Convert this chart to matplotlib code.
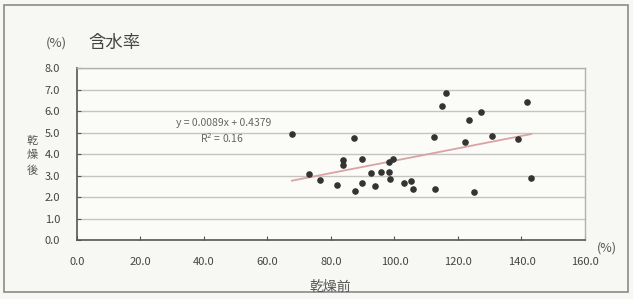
import matplotlib
matplotlib.use("Agg")
import matplotlib.pyplot as plt
import numpy as np
from matplotlib.patches import Rectangle

plt.rcParams['font.family'] = ['Noto Sans CJK JP', 'DejaVu Sans']

# data
x_before = [116.2, 114.9, 141.7, 127.4, 123.4, 87.3, 112.6, 130.7, 122.2, 138.8,
            83.7, 83.7, 89.8, 98.4, 99.6, 73.2, 76.7, 92.6, 95.9, 98.2,
            98.6, 81.9, 89.8, 94.0, 103.1, 105.2, 105.7, 112.8, 87.5, 124.9,
            143.1, 67.7]
y_after = [6.82, 6.25, 6.43, 5.94, 5.57, 4.74, 4.80, 4.85, 4.57, 4.68,
           3.72, 3.49, 3.75, 3.64, 3.75, 3.07, 2.79, 3.10, 3.18, 3.18,
           2.82, 2.56, 2.64, 2.51, 2.64, 2.74, 2.36, 2.37, 2.28, 2.23,
           2.90, 4.93]
trend_slope = 0.0288
trend_intercept = 0.81
equation_text = "y = 0.0089x + 0.4379"
r2_text = "R$^2$ = 0.16"
x_ticks = [0, 20, 40, 60, 80, 100, 120, 140, 160]
y_ticks = [0, 1, 2, 3, 4, 5, 6, 7, 8]

bg = '#f7f7f3'
fig = plt.figure(figsize=(6.33, 2.99), dpi=100, facecolor=bg)
fig.patches.append(Rectangle((0.007, 0.022), 0.985, 0.962, transform=fig.transFigure,
                             fill=False, edgecolor='#8a8a8a', linewidth=1.2))

ax = fig.add_axes([0.1216, 0.1973, 0.8025, 0.575])
ax.set_facecolor('#fbfbf8')
ax.set_xlim(0, 160)
ax.set_ylim(0, 8)
ax.set_xticks(x_ticks)
ax.set_yticks(y_ticks)
ax.set_xticklabels([f"{v:.1f}" for v in x_ticks])
ax.set_yticklabels([f"{v:.1f}" for v in y_ticks])
ax.tick_params(axis='both', labelsize=8, colors='#555555', labelcolor='#444444',
               direction='in', length=3, width=0.8)
ax.tick_params(axis='y', pad=12)
ax.tick_params(axis='x', pad=12)

for yv in y_ticks[1:]:
    ax.axhline(yv, color='#c4c4c0', linewidth=1.0, zorder=0)

for side in ['left', 'bottom']:
    ax.spines[side].set_color('#555555')
    ax.spines[side].set_linewidth(1.2)
for side in ['top', 'right']:
    ax.spines[side].set_color('#b0b0ac')
    ax.spines[side].set_linewidth(1.0)

xs = np.array([min(x_before), max(x_before)])
ax.plot(xs, trend_slope * xs + trend_intercept, color='#d9a3a3', linewidth=1.3, zorder=2)
ax.scatter(x_before, y_after, s=14, color='#333333', zorder=3)

ax.text(0.288, 0.68, equation_text, transform=ax.transAxes, ha='center', va='center',
        fontsize=7.5, color='#666666')
ax.text(0.286, 0.59, r2_text, transform=ax.transAxes, ha='center', va='center',
        fontsize=7.5, color='#666666')

fig.text(0.089, 0.855, "(%)", fontsize=9.5, color='#555555', ha='center', va='center')
fig.text(0.181, 0.855, "含水率", fontsize=12.5, color='#444444', ha='center', va='center')
for i, ch in enumerate("乾燥後"):
    fig.text(0.051, 0.53 - i * 0.05, ch, fontsize=8, color='#555555', ha='center', va='center')
fig.text(0.521, 0.04, "乾燥前", fontsize=10, color='#555555', ha='center', va='center')
fig.text(0.958, 0.17, "(%)", fontsize=9, color='#555555', ha='center', va='center')

fig.savefig("out.png", dpi=100, facecolor=bg)
